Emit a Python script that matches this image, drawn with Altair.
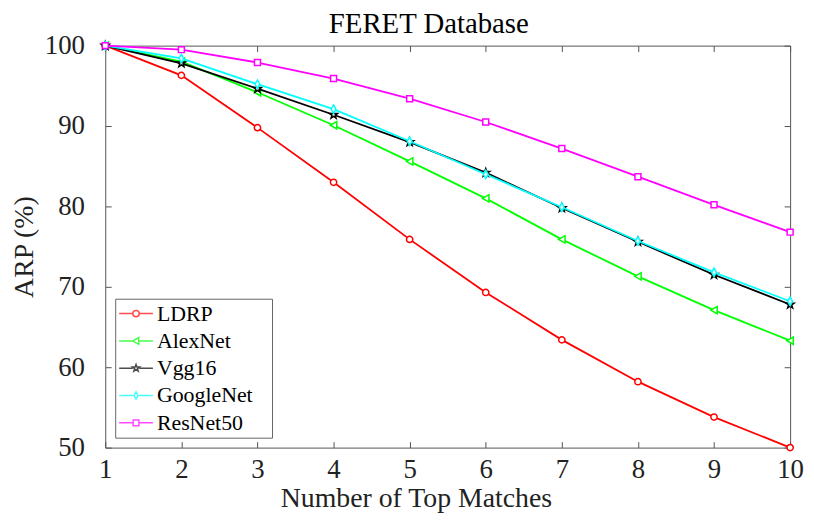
import math
import altair as alt
import pandas as pd

# ---------------- data ----------------
matches = [1, 2, 3, 4, 5, 6, 7, 8, 9, 10]
ldrp = [100.0, 96.3, 89.8, 83.0, 75.9, 69.3, 63.4, 58.2, 53.8, 50.0]
alexnet = [100.0, 98.0, 94.2, 90.1, 85.6, 81.0, 75.9, 71.3, 67.1, 63.3]
vgg16 = [100.0, 97.8, 94.65, 91.4, 88.0, 84.2, 79.8, 75.6, 71.5, 67.8]
googlenet = [100.0, 98.4, 95.2, 92.1, 88.1, 84.0, 79.9, 75.7, 71.8, 68.2]
resnet50 = [100.0, 99.5, 97.9, 95.9, 93.4, 90.5, 87.2, 83.7, 80.2, 76.8]

series_names = ["LDRP", "AlexNet", "Vgg16", "GoogleNet", "ResNet50"]
series_values = [ldrp, alexnet, vgg16, googlenet, resnet50]
series_colors = ["#ff0000", "#00ff00", "#000000", "#00ffff", "#ff00ff"]
x_ticks = [1, 2, 3, 4, 5, 6, 7, 8, 9, 10]
y_ticks = [50, 60, 70, 80, 90, 100]

rows = []
for name, vals in zip(series_names, series_values):
    for m, v in zip(matches, vals):
        rows.append({"series": name, "matches": m, "arp": v})
df = pd.DataFrame(rows)

# ---------------- marker shapes ----------------
def star_path(scale=1.0):
    pts = []
    for k in range(10):
        ang = math.radians(-90 + 36 * k)
        r = 1.0 if k % 2 == 0 else 0.4
        pts.append((scale * r * math.cos(ang), scale * r * math.sin(ang)))
    return "M" + "L".join(f"{x:.3f},{y:.3f}" for x, y in pts) + "Z"

point_shapes = ["circle", "triangle-left", star_path(1.15), "M0,-1.1L0.62,0L0,1.1L-0.62,0Z", "square"]
point_sizes = [40, 55, 55, 60, 36]

legend_paths = [
    "M-1,0L-0.19,0M0.19,0L1,0M-0.19,0A0.19,0.19,0,1,0,0.19,0A0.19,0.19,0,1,0,-0.19,0Z",
    "M-1,0L-0.2,0M0.16,0L1,0M-0.2,0L0.16,-0.2L0.16,0.2Z",
    "M-1,0L-0.2,0M0.2,0L1,0" + star_path(0.22),
    "M-1,0L-0.12,0M0.12,0L1,0M0,-0.22L0.12,0L0,0.22L-0.12,0Z",
    "M-1,0L-0.17,0M0.17,0L1,0M-0.17,-0.17L0.17,-0.17L0.17,0.17L-0.17,0.17Z",
]

FONT = "Liberation Serif"
AX = "#555555"
x_scale = alt.Scale(domain=[1, 10], nice=False, zero=False)
y_scale = alt.Scale(domain=[50, 100], nice=False, zero=False)
color_scale = alt.Scale(domain=series_names, range=series_colors)

common_axis = dict(domain=False, grid=False, tickSize=6, offset=-6, tickColor=AX,
                   tickWidth=1, labelFont=FONT, labelFontSize=27, labelColor="#222222",
                   titleFont=FONT, titleFontSize=28, titleFontWeight="normal",
                   titleColor="#222222", labelFlush=False, labelOverlap=False)

x_bottom = alt.X("matches:Q", scale=x_scale,
                 axis=alt.Axis(orient="bottom", values=x_ticks, labelPadding=9,
                               title="Number of Top Matches", titlePadding=2,
                               titleX=313, titleAlign="center", **common_axis))
y_left = alt.Y("arp:Q", scale=y_scale,
               axis=alt.Axis(orient="left", values=y_ticks, labelPadding=21,
                             title="ARP (%)", titlePadding=6, **common_axis))
x_top = alt.X("matches:Q", scale=x_scale,
              axis=alt.Axis(orient="top", values=x_ticks, labels=False, title=None,
                            domain=False, grid=False, tickSize=6, offset=-6,
                            tickColor=AX, tickWidth=1))
y_right = alt.Y("arp:Q", scale=y_scale,
                axis=alt.Axis(orient="right", values=y_ticks, labels=False, title=None,
                              domain=False, grid=False, tickSize=6, offset=-6,
                              tickColor=AX, tickWidth=1))
x_none = alt.X("matches:Q", scale=x_scale, axis=None)
y_none = alt.Y("arp:Q", scale=y_scale, axis=None)

layers = []
for i, (name, col) in enumerate(zip(series_names, series_colors)):
    line = alt.Chart(df).transform_filter(alt.datum.series == name).mark_line(
        strokeWidth=1.8, color=col
    ).encode(
        x=x_bottom if i == 0 else x_none,
        y=y_left if i == 0 else y_none,
    )
    pts = alt.Chart(df).transform_filter(alt.datum.series == name).mark_point(
        shape=point_shapes[i], size=point_sizes[i], filled=True, fill="white",
        stroke=col, strokeWidth=1.5, opacity=1,
    ).encode(
        x=x_top if i == 0 else x_none,
        y=y_right if i == 0 else y_none,
    )
    layers.extend([line, pts])

legend_props = dict(orient="none", legendX=10, legendY=255, title=None,
                    labelFont=FONT, labelFontSize=22, labelColor="#000000",
                    symbolSize=1156, symbolStrokeWidth=1.5, strokeColor="#666666",
                    fillColor="white", padding=3, clipHeight=24, rowPadding=3.5,
                    labelOffset=3, symbolOffset=0,
                    labelExpr="datum.label + '\u2800'")

legend_layer = alt.Chart(df).transform_filter("datum.matches > 100").mark_point(
    filled=False, strokeWidth=1.5
).encode(
    x=x_none, y=y_none,
    color=alt.Color("series:N", scale=color_scale, legend=alt.Legend(**legend_props)),
    shape=alt.Shape("series:N", scale=alt.Scale(domain=series_names, range=legend_paths),
                    legend=alt.Legend(**legend_props)),
)
layers.append(legend_layer)

chart = alt.layer(*layers).resolve_axis(x="independent", y="independent").properties(
    width=690, height=405,
    title=alt.TitleParams("FERET Database", font=FONT, fontSize=29, fontWeight="normal",
                          color="#000000", anchor="middle", dx=-19, offset=-7),
    autosize=alt.AutoSizeParams(type="none"),
    padding={"left": 98, "top": 36, "right": 16, "bottom": 68},
).configure_view(stroke=AX, strokeWidth=1)

chart.save("out.html", embed_options={"renderer": "svg", "actions": False})
